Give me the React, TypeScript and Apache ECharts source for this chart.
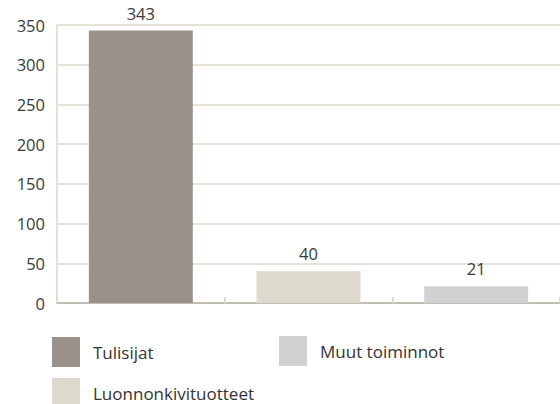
import React, { useEffect, useRef } from "react";
import * as echarts from "echarts";

const categories = ["Tulisijat", "Luonnonkivituotteet", "Muut toiminnot"];
const values = [343, 40, 21];
const colors = ["#9a918b", "#ddd9cd", "#d0d1d3"];
const yTicks = { min: 0, max: 350, interval: 50 };

export default function App() {
  const ref = useRef<HTMLDivElement>(null);
  useEffect(() => {
    const chart = echarts.init(ref.current!, undefined, { renderer: "svg" });
    const font = "'Open Sans', sans-serif";
    const series = categories.map((name, i) => ({
      name,
      type: "bar",
      stack: "all",
      barWidth: "62%",
      itemStyle: { color: colors[i] },
      label: {
        show: true,
        position: "top",
        color: "#3a3a3a",
        fontFamily: font,
        fontSize: 16.5,
        distance: 9,
      },
      data: categories.map((_, j) => (j === i ? values[i] : "-")),
    }));
    const legendBase = {
      orient: "horizontal",
      padding: 0,
      itemWidth: 28,
      itemHeight: 30,
      icon: "rect",
      selectedMode: false,
      textStyle: {
        color: "#333",
        fontFamily: font,
        fontSize: 17,
        padding: [0, 0, 0, 8],
      },
    };
    chart.setOption({
      animation: false,
      grid: { left: 57, right: -4, top: 25, bottom: 101, containLabel: false },
      xAxis: {
        type: "category",
        data: categories,
        axisLabel: { show: false },
        axisLine: { show: true, lineStyle: { color: "#c4bfb6", width: 2 } },
        axisTick: {
          show: true,
          inside: true,
          length: 6,
          lineStyle: { color: "#e2ded3", width: 2 },
        },
      },
      yAxis: {
        type: "value",
        min: yTicks.min,
        max: yTicks.max,
        interval: yTicks.interval,
        axisLine: { show: true, lineStyle: { color: "#e4e0d6", width: 2 } },
        axisTick: { show: false },
        axisLabel: {
          color: "#3a3a3a",
          fontFamily: font,
          fontSize: 16.5,
          margin: 12,
        },
        splitLine: { lineStyle: { color: "#e6e2d8", width: 2 } },
      },
      legend: [
        { ...legendBase, data: ["Tulisijat"], left: 52, top: 337 },
        { ...legendBase, data: ["Muut toiminnot"], left: 279, top: 336 },
        { ...legendBase, data: ["Luonnonkivituotteet"], left: 52, top: 378 },
      ],
      series,
    });
    return () => chart.dispose();
  }, []);
  return (
    <div
      ref={ref}
      style={{ width: 560, height: 404, position: "absolute", left: 0, top: 0 }}
    />
  );
}
